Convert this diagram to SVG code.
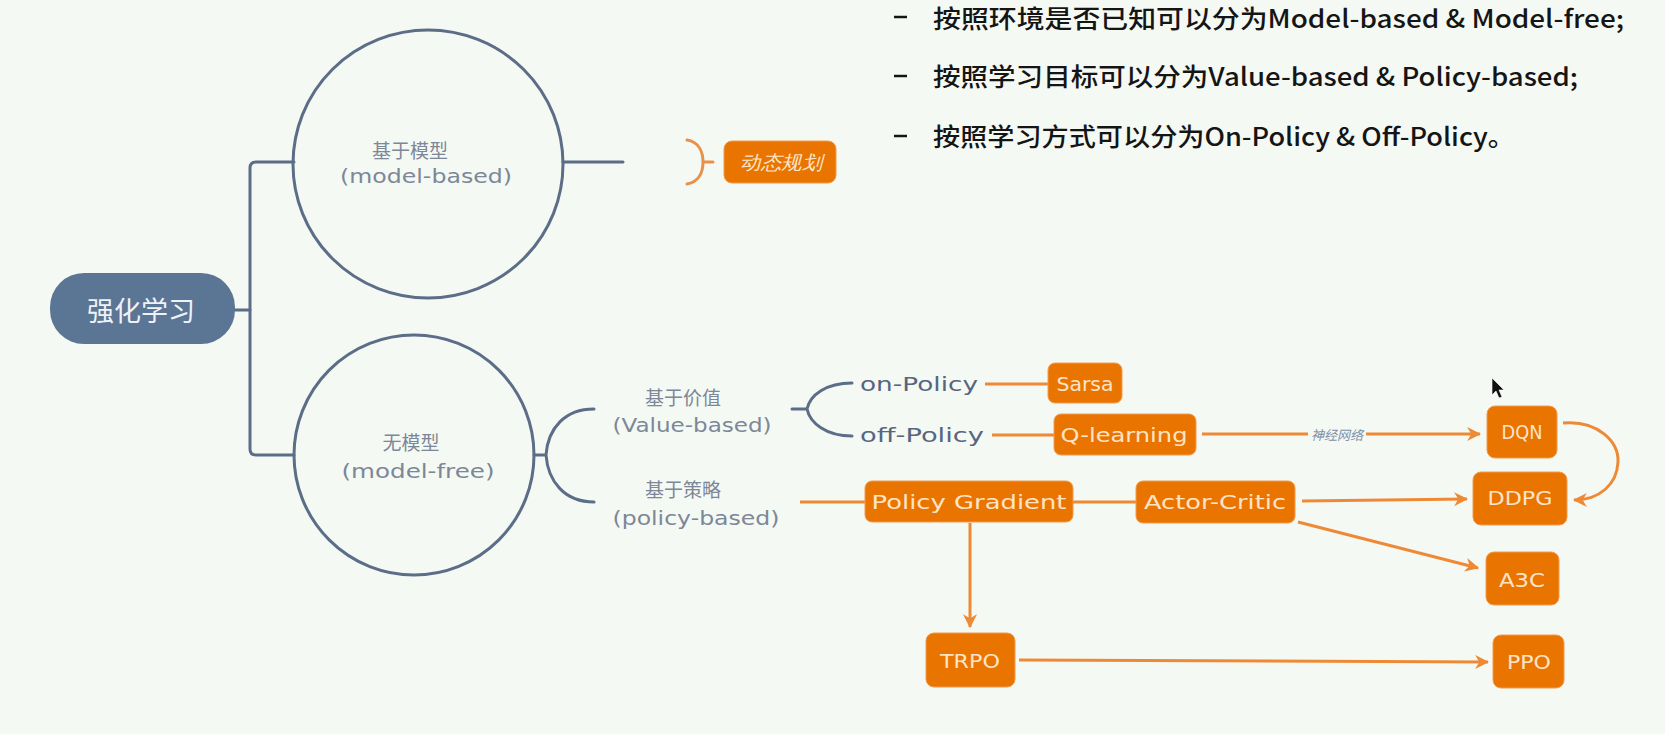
<svg xmlns="http://www.w3.org/2000/svg" width="1665" height="734" viewBox="0 0 1665 734">
<defs>
<style>
.bg{fill:#f5f9f4}
.slate{fill:none;stroke:#5b6d87;stroke-width:3;stroke-linecap:round}
.orl{fill:none;stroke:#ee8a35;stroke-width:3}
.box{fill:#ea7400;stroke:#f19a4e;stroke-width:1}
.bt{font-family:"DejaVu Sans","Noto Sans",sans-serif;font-size:19px;fill:#fce4c8;text-anchor:middle;dominant-baseline:central}
.gl{font-family:"Noto Sans CJK SC","Noto Sans",sans-serif;font-size:19px;fill:#7c8797;text-anchor:middle;dominant-baseline:central}
.gh{font-family:"DejaVu Sans","Noto Sans",sans-serif;font-size:19px;fill:#7c8797;text-anchor:middle;dominant-baseline:central}
.pol{font-family:"DejaVu Sans","Noto Sans",sans-serif;font-size:19px;fill:#56667f;dominant-baseline:central}
.top{font-family:"Noto Sans CJK SC","Noto Sans",sans-serif;font-size:25px;font-weight:500;fill:#151515;dominant-baseline:central}
</style>
<marker id="arr" viewBox="0 0 12 12" refX="11" refY="6" markerWidth="14" markerHeight="14" markerUnits="userSpaceOnUse" orient="auto">
<path d="M0,0 L12,6 L0,12 L3.5,6 z" fill="#ee8a35"/>
</marker>
</defs>
<rect class="bg" x="0" y="0" width="1665" height="734"/>

<g id="notes">
<line x1="894" y1="17" x2="907" y2="17" stroke="#151515" stroke-width="2.5"/>
<text class="top" x="933" y="17" textLength="691" lengthAdjust="spacingAndGlyphs">按照环境是否已知可以分为Model-based &amp; Model-free;</text>
<line x1="894" y1="76" x2="907" y2="76" stroke="#151515" stroke-width="2.5"/>
<text class="top" x="933" y="75" textLength="645" lengthAdjust="spacingAndGlyphs">按照学习目标可以分为Value-based &amp; Policy-based;</text>
<line x1="894" y1="136" x2="907" y2="136" stroke="#151515" stroke-width="2.5"/>
<text class="top" x="933" y="135" textLength="582" lengthAdjust="spacingAndGlyphs">按照学习方式可以分为On-Policy &amp; Off-Policy。</text>
</g>

<g id="connectors">
<path class="slate" d="M235,310 H250"/>
<path class="slate" d="M294,162 H256 Q250,162 250,168 V449 Q250,455 256,455 H294"/>
<path class="slate" d="M563,162 H623"/>
<path class="slate" d="M534,455 H546 M594,409 C565,409 548,428 546,455 C548,482 565,502 594,502"/>
<path class="slate" d="M792,409 H807 M852,383 C826,383 810,395 807,409 C810,423 826,436 852,436"/>
<path d="M687,140 C699,142 703,152 703,162 C703,172 699,182 687,184 M703,162 H713" fill="none" stroke="#e8914a" stroke-width="3" stroke-linecap="round"/>
<path class="orl" d="M985,384 H1048"/>
<path class="orl" d="M992,435 H1054"/>
<path class="orl" d="M800,502 H865"/>
<path class="orl" d="M1073,502 H1136"/>
<path class="orl" d="M1202,434 H1308"/>
<path class="orl" d="M1366,434 H1480" marker-end="url(#arr)"/>
<text x="1337" y="434" font-family="Noto Sans CJK SC,sans-serif" font-size="13" font-style="italic" fill="#7d8fa8" text-anchor="middle" dominant-baseline="central">神经网络</text>
<path class="orl" d="M1302,501 L1467,499" marker-end="url(#arr)"/>
<path class="orl" d="M1298,522 L1478,568" marker-end="url(#arr)"/>
<path class="orl" d="M1563,423 C1598,420 1619,442 1618,462 C1617,484 1600,500 1574,500" marker-end="url(#arr)"/>
<path class="orl" d="M970,523 V627" marker-end="url(#arr)"/>
<path class="orl" d="M1019,660 L1488,662" marker-end="url(#arr)"/>
</g>

<g id="root">
<rect x="50" y="273" width="185" height="71" rx="34" fill="#5b7595"/>
<text x="141" y="309" font-family="Noto Sans CJK SC,sans-serif" font-size="27" fill="#eef2f7" text-anchor="middle" dominant-baseline="central">强化学习</text>
</g>

<g id="model-based">
<ellipse cx="428" cy="164" rx="135" ry="134" class="slate"/>
<text class="gl" x="410" y="149">基于模型</text>
<text class="gh" x="426" y="176" textLength="172" lengthAdjust="spacingAndGlyphs">(model-based)</text>
</g>

<g id="model-free">
<circle cx="414" cy="455" r="120" class="slate"/>
<text class="gl" x="411" y="441">无模型</text>
<text class="gh" x="418" y="471" textLength="153" lengthAdjust="spacingAndGlyphs">(model-free)</text>
</g>

<g id="value-based">
<text class="gl" x="683" y="396">基于价值</text>
<text class="gh" x="692" y="425" textLength="159" lengthAdjust="spacingAndGlyphs">(Value-based)</text>
</g>

<g id="policy-based">
<text class="gl" x="683" y="488">基于策略</text>
<text class="gh" x="696" y="518" textLength="167" lengthAdjust="spacingAndGlyphs">(policy-based)</text>
</g>

<g id="on-policy"><text class="pol" x="860" y="384" textLength="118" lengthAdjust="spacingAndGlyphs">on-Policy</text></g>
<g id="off-policy"><text class="pol" x="860" y="435" textLength="124" lengthAdjust="spacingAndGlyphs">off-Policy</text></g>

<g id="dp">
<rect class="box" x="724" y="141" width="112" height="42" rx="8"/>
<text class="bt" x="781" y="162" font-style="italic" font-family="Noto Sans CJK SC,sans-serif" textLength="82" lengthAdjust="spacingAndGlyphs">动态规划</text>
</g>

<g id="sarsa">
<rect class="box" x="1048" y="363" width="74" height="40" rx="7"/>
<text class="bt" x="1085" y="384" textLength="57" lengthAdjust="spacingAndGlyphs">Sarsa</text>
</g>

<g id="qlearning">
<rect class="box" x="1054" y="414" width="142" height="41" rx="7"/>
<text class="bt" x="1124" y="435" textLength="127" lengthAdjust="spacingAndGlyphs">Q-learning</text>
</g>

<g id="policy-gradient">
<rect class="box" x="865" y="481" width="208" height="41" rx="7"/>
<text class="bt" x="969" y="502" textLength="195" lengthAdjust="spacingAndGlyphs">Policy Gradient</text>
</g>

<g id="actor-critic">
<rect class="box" x="1136" y="481" width="159" height="42" rx="7"/>
<text class="bt" x="1215" y="502" textLength="142" lengthAdjust="spacingAndGlyphs">Actor-Critic</text>
</g>

<g id="dqn">
<rect class="box" x="1487" y="406" width="70" height="52" rx="8"/>
<text class="bt" x="1522" y="432" font-size="20" textLength="41" lengthAdjust="spacingAndGlyphs">DQN</text>
</g>

<g id="ddpg">
<rect class="box" x="1473" y="472" width="94" height="53" rx="8"/>
<text class="bt" x="1520" y="498" font-size="20" textLength="65" lengthAdjust="spacingAndGlyphs">DDPG</text>
</g>

<g id="a3c">
<rect class="box" x="1486" y="552" width="73" height="53" rx="8"/>
<text class="bt" x="1522" y="580" font-size="20" textLength="46" lengthAdjust="spacingAndGlyphs">A3C</text>
</g>

<g id="trpo">
<rect class="box" x="926" y="633" width="89" height="54" rx="8"/>
<text class="bt" x="970" y="661" font-size="20" textLength="60" lengthAdjust="spacingAndGlyphs">TRPO</text>
</g>

<g id="ppo">
<rect class="box" x="1493" y="635" width="71" height="53" rx="8"/>
<text class="bt" x="1529" y="662" font-size="20" textLength="44" lengthAdjust="spacingAndGlyphs">PPO</text>
</g>

<g id="cursor">
<path d="M1492,378 V395 L1496,391 L1499,398 L1502,397 L1499,390 L1504,390 z" fill="#111" stroke="#fff" stroke-width="0.6"/>
</g>
</svg>
